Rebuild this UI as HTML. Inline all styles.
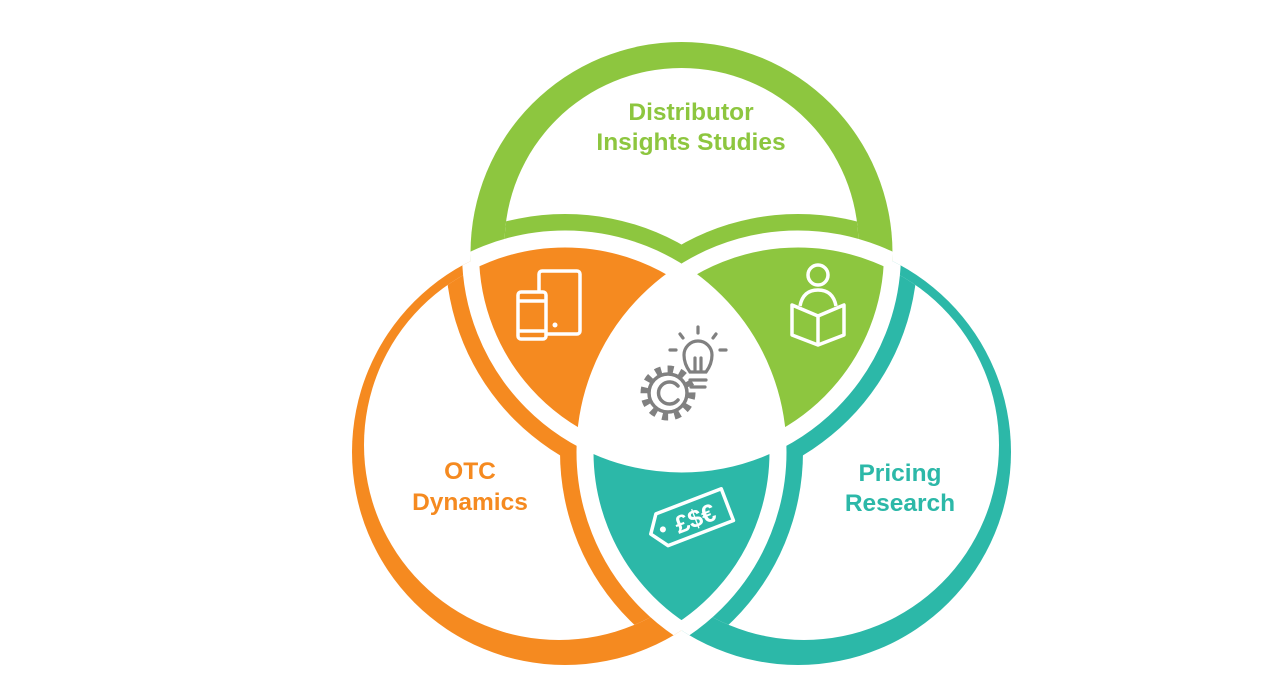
<!DOCTYPE html>
<html><head><meta charset="utf-8"><style>
html,body{margin:0;padding:0;background:#fff;width:1280px;height:699px;overflow:hidden}
svg{display:block}
text{font-family:"Liberation Sans",sans-serif;font-weight:bold;font-size:24.5px;text-anchor:middle}
</style></head><body>
<svg width="1280" height="699" viewBox="0 0 1280 699">
<defs>
<clipPath id="cG"><circle cx="681.5" cy="253" r="211"/></clipPath>
<clipPath id="cO"><circle cx="565" cy="452" r="213"/></clipPath>
<clipPath id="cT"><circle cx="798" cy="452" r="213"/></clipPath>
<clipPath id="cGi"><circle cx="681.5" cy="245" r="177"/></clipPath>
<clipPath id="cOi"><circle cx="559" cy="445" r="195"/></clipPath>
<clipPath id="cTi"><circle cx="804" cy="445" r="195"/></clipPath>
<clipPath id="cOT"><circle cx="565" cy="452" r="213"/><circle cx="798" cy="452" r="213"/></clipPath>
<clipPath id="cGT"><circle cx="681.5" cy="253" r="211"/><circle cx="798" cy="452" r="213"/></clipPath>
<clipPath id="cGO"><circle cx="681.5" cy="253" r="211"/><circle cx="565" cy="452" r="213"/></clipPath>
<clipPath id="gearclip"><path d="M600 330 L700 330 L690 378 L700 395 L700 450 L600 450 Z"/></clipPath>
</defs>
<!-- green ring -->
<circle cx="681.5" cy="253" r="211" fill="#8dc63f"/>
<circle cx="681.5" cy="245" r="177" fill="#fff"/>
<g clip-path="url(#cGi)"><circle cx="565" cy="452" r="238" fill="#8dc63f"/><circle cx="798" cy="452" r="238" fill="#8dc63f"/></g>
<!-- orange ring -->
<circle cx="565" cy="452" r="213" fill="#f58a20"/>
<circle cx="559" cy="445" r="195" fill="#fff"/>
<g clip-path="url(#cOi)"><circle cx="681.5" cy="253" r="236" fill="#f58a20"/><circle cx="798" cy="452" r="238" fill="#f58a20"/></g>
<!-- teal ring -->
<circle cx="798" cy="452" r="213" fill="#2cb8a8"/>
<circle cx="804" cy="445" r="195" fill="#fff"/>
<g clip-path="url(#cTi)"><circle cx="681.5" cy="253" r="236" fill="#2cb8a8"/><circle cx="565" cy="452" r="238" fill="#2cb8a8"/></g>
<!-- lenses -->
<g clip-path="url(#cO)"><circle cx="681.5" cy="253" r="211" fill="#f58a20"/></g>
<g clip-path="url(#cT)"><circle cx="681.5" cy="253" r="211" fill="#8dc63f"/></g>
<g clip-path="url(#cO)"><circle cx="798" cy="452" r="213" fill="#2cb8a8"/></g>
<g clip-path="url(#cO)"><g clip-path="url(#cT)"><circle cx="681.5" cy="253" r="211" fill="#fff"/></g></g>
<!-- gaps -->
<g clip-path="url(#cOT)"><circle cx="681.5" cy="253" r="211" fill="none" stroke="#fff" stroke-width="17"/></g>
<g clip-path="url(#cGT)"><circle cx="565" cy="452" r="213" fill="none" stroke="#fff" stroke-width="17"/></g>
<g clip-path="url(#cGO)"><circle cx="798" cy="452" r="213" fill="none" stroke="#fff" stroke-width="17"/></g>
<!-- text -->
<text x="691" y="120" fill="#8dc63f">Distributor</text>
<text x="691" y="150" fill="#8dc63f">Insights Studies</text>
<text x="470" y="479" fill="#f58a20">OTC</text>
<text x="470" y="510" fill="#f58a20">Dynamics</text>
<text x="900" y="481" fill="#2cb8a8">Pricing</text>
<text x="900" y="511" fill="#2cb8a8">Research</text>
<!-- tablet/phone icon -->
<g fill="none" stroke="#fff" stroke-width="3.5" stroke-linejoin="round">
<rect x="539" y="271" width="41" height="63" rx="3"/>
<rect x="518" y="292" width="28" height="47" rx="3" fill="#f58a20"/>
<line x1="518" y1="301" x2="546" y2="301"/>
<line x1="518" y1="331" x2="546" y2="331"/>
</g>
<circle cx="555" cy="325" r="2.5" fill="#fff"/>
<!-- reader icon -->
<g fill="none" stroke="#fff" stroke-width="3.5" stroke-linejoin="round">
<circle cx="818" cy="275" r="10"/>
<path d="M800 306 Q803 290 818 290 Q833 290 836 306"/>
<path d="M792 305 L818 316 L844 305 L844 335 L818 345 L792 335 Z"/>
<line x1="818" y1="316" x2="818" y2="345"/>
</g>
<!-- gear + bulb -->
<g fill="none" stroke="#808080" stroke-linecap="round">
<g clip-path="url(#gearclip)">
<circle cx="668" cy="393" r="24" stroke-width="7" stroke-dasharray="6 6.5" stroke-linecap="butt"/>
<circle cx="668" cy="393" r="19" stroke-width="3.5"/>
</g>
<path d="M678 386 A11 11 0 1 0 678 400" stroke-width="3.5"/>
<g stroke-width="3.2">
<path d="M690 372 Q684 364 684 355 A14 14 0 1 1 712 355 Q712 364 706 372 Z"/>
<line x1="690" y1="380" x2="706" y2="380"/>
<line x1="691" y1="387" x2="705" y2="387"/>
<line x1="695" y1="370" x2="695" y2="358"/>
<line x1="701" y1="370" x2="701" y2="358"/>
<line x1="698" y1="327" x2="698" y2="333"/>
<line x1="680" y1="334" x2="683" y2="338"/>
<line x1="716" y1="334" x2="713" y2="338"/>
<line x1="670" y1="350" x2="676" y2="350"/>
<line x1="720" y1="350" x2="726" y2="350"/>
</g>
</g>
<!-- price tag -->
<g transform="rotate(-21 690 519)">
<path d="M660 502 L730 502 L730 536 L660 536 L648 519 Z" fill="none" stroke="#fff" stroke-width="3.5" stroke-linejoin="round"/>
<circle cx="661" cy="519" r="3" fill="#fff"/>
<text x="695" y="529" fill="#fff" style="font-size:25px">£$€</text>
</g>
</svg>
</body></html>
